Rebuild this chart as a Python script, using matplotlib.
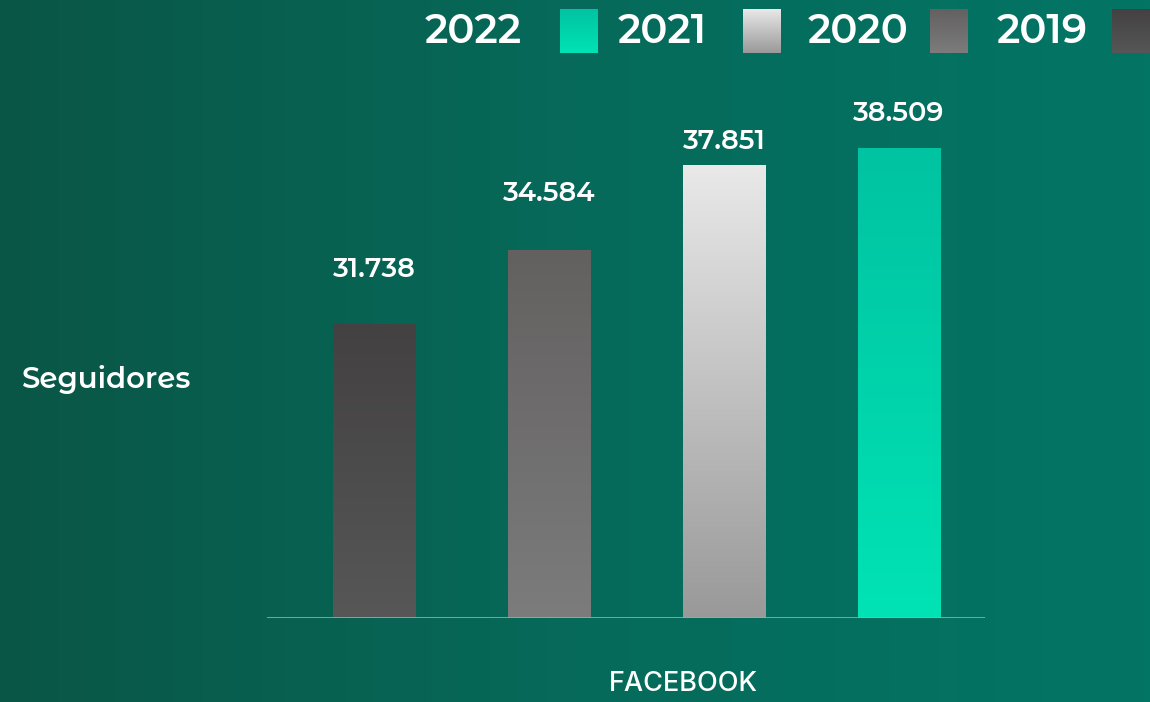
import numpy as np
import matplotlib.pyplot as plt
from matplotlib.colors import LinearSegmentedColormap

years = ['2019', '2020', '2021', '2022']
seguidores = [31738, 34584, 37851, 38509]
value_labels = ['31.738', '34.584', '37.851', '38.509']
# gradient (top colour, bottom colour) for each year
bar_colors = [('#434141', '#575757'),
              ('#636060', '#7c7c7c'),
              ('#e9e9e9', '#999999'),
              ('#00c3a1', '#00e3b5')]
label_offsets = [31, 32, 8, 16]

plt.rcParams['font.family'] = ['Montserrat Alternates', 'DejaVu Sans']

W, H = 1150, 702
fig = plt.figure(figsize=(W / 100, H / 100), dpi=100)

# background: full-figure axes in pixel coordinates
bg = fig.add_axes([0, 0, 1, 1])
bg.set_xlim(0, W)
bg.set_ylim(H, 0)
bg.axis('off')
bg_cmap = LinearSegmentedColormap.from_list('bg', ['#0a5646', '#066a5a', '#037565'])
grad = np.linspace(0, 1, 256).reshape(1, -1)
bg.imshow(grad, cmap=bg_cmap, extent=[0, W, H, 0], aspect='auto', zorder=0)


def vgrad(top, bottom):
    return LinearSegmentedColormap.from_list('g', [top, bottom])


vert = np.linspace(0, 1, 256).reshape(-1, 1)

# legend: label followed by swatch, newest first
leg_text_x = [425, 618, 808, 997]
leg_box_x = [560, 743, 930, 1112]
for i, yr in enumerate(years[::-1]):
    top, bottom = bar_colors[::-1][i]
    bg.text(leg_text_x[i], 32, yr, fontsize=29, fontweight=600,
            color='white', va='center', ha='left', zorder=3)
    bg.imshow(vert, cmap=vgrad(top, bottom),
              extent=[leg_box_x[i], leg_box_x[i] + 38, 53, 9], aspect='auto', zorder=3)
bg.set_xlim(0, W)
bg.set_ylim(H, 0)

bg.text(22, 379, 'Seguidores', fontsize=21, fontweight=600,
        color='white', va='center', ha='left')
bg.text(683, 684, 'FACEBOOK', fontsize=19.5, fontweight=500, family=['Inter', 'DejaVu Sans'],
        color='white', va='center', ha='center')

# chart axes
ax_left, ax_right, ax_base, ax_top = 267, 985, 618, 100
ax = fig.add_axes([ax_left / W, 1 - ax_base / H,
                   (ax_right - ax_left) / W, (ax_base - ax_top) / H])
ax.patch.set_alpha(0)
ymin = 20500
ymax = ymin + (seguidores[-1] - ymin) * (ax_base - ax_top) / 470
xs = np.arange(len(years))
spacing = 175.0
xmin = (ax_left - 374) / spacing
xmax = xmin + (ax_right - ax_left) / spacing
width = 83 / spacing

for x, v, (top, bottom), lab, off in zip(xs, seguidores, bar_colors, value_labels, label_offsets):
    ax.imshow(vert, cmap=vgrad(top, bottom),
              extent=[x - width / 2, x + width / 2, ymin, v], aspect='auto', zorder=2)
    ax.annotate(lab, (x, v), xytext=(0, off), textcoords='offset points',
                ha='center', va='bottom', fontsize=19.5, fontweight=600, color='white')

ax.set_xlim(xmin, xmax)
ax.set_ylim(ymin, ymax)
ax.axhline(ymin, color='#8fb0a8', lw=1.2, zorder=3)
ax.axis('off')

fig.savefig('out.png', dpi=100)
